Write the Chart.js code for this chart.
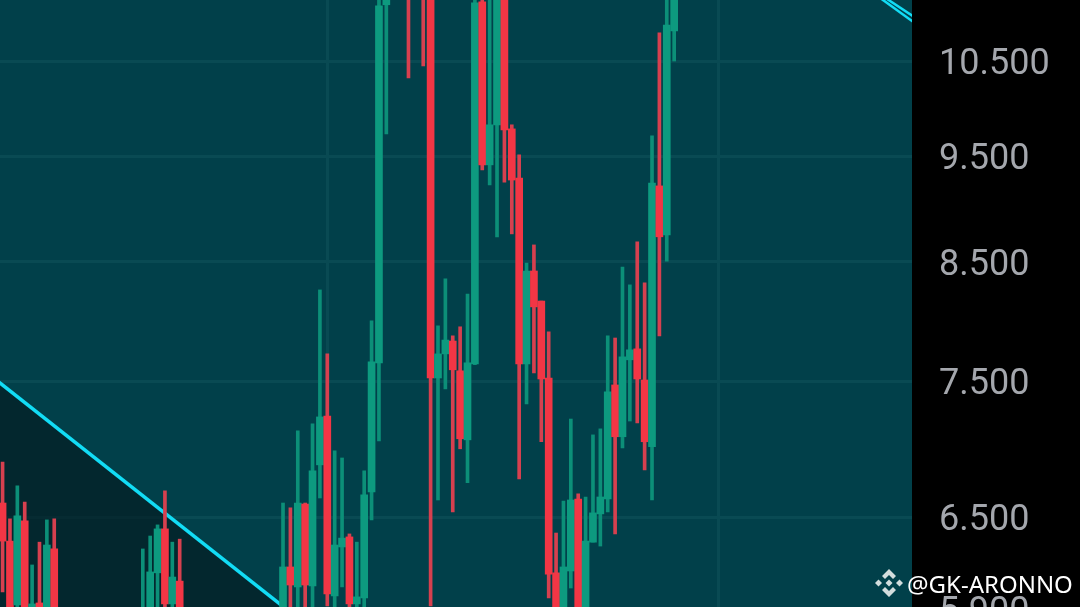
<!DOCTYPE html>
<html>
<head>
<meta charset="utf-8">
<title>Candles</title>
<script src="https://cdn.jsdelivr.net/npm/chart.js@4"></script>
<style>
    html, body { margin: 0; padding: 0; background: #000; overflow: hidden; width: 1080px; height: 607px; }
    #chartBox { position: absolute; left: 0; top: 0; width: 1080px; height: 640px; }
    #mark {
        position: absolute; left: 875px; top: 569px; height: 28px;
        display: flex; align-items: center; gap: 4px;
        font: 24px "Noto Sans", sans-serif; color: #fff; white-space: nowrap;
    }
</style>
</head>
<body>
<div id="chartBox"><canvas id="candleChart" width="1080" height="640"></canvas></div>
<div id="mark">
    <svg width="28" height="28" viewBox="0 0 28 28">
        <g fill="#d3dddd">
            <polygon points="14,10.5 17.5,14 14,17.5 10.5,14"/>
            <polygon points="14,0 21,7 18,10 14,6 10,10 7,7"/>
            <polygon points="14,28 21,21 18,18 14,22 10,18 7,21"/>
            <polygon points="0,14 3.5,10.5 7,14 3.5,17.5"/>
            <polygon points="28,14 24.5,10.5 21,14 24.5,17.5"/>
        </g>
    </svg>
    <span>@GK-ARONNO</span>
</div>
<script>
// slot = candle position on the time axis (gaps are candles outside the visible price range)
const slots = [0, 1, 2, 3, 4, 5, 6, 7,
    19, 20, 21, 22, 23, 24,
    38, 39, 40, 41, 42, 43, 44, 45, 46, 47, 48, 49, 50, 51, 52,
    55, 57, 58, 59, 60, 61, 62, 63, 64, 65, 66, 67, 68, 69, 70,
    71, 72, 73, 74, 75, 76, 77, 78, 79, 80, 81, 82, 83, 84, 85,
    86, 87, 88, 89, 90, 91];
const opens = [6597, 6338, 5927, 6474, 5650, 5939, 5650, 6286,
    5650, 5650, 6130, 6420, 5933, 6077,
    5650, 6168, 6040, 6590, 6046, 6867, 7229, 5983, 6299, 6366, 5933, 5971, 6675, 7645, 11140,
    11600, 11600, 11500, 7524, 7717, 7822, 7581, 7050, 7637, 11175, 9414, 9819, 11500, 9777, 9285,
    7637, 8420, 8158, 7524, 6130, 5650, 6142, 6625, 5650, 6331, 6522, 6625, 7469, 7073, 7669,
    7758, 7508, 6999, 9208, 8746, 10838];
const highs = [6888, 6488, 6717, 6604, 6181, 6331, 6481, 6488,
    6286, 6372, 6447, 6682, 6331, 6351,
    6597, 6563, 7117, 6597, 7169, 8254, 7717, 6969, 6917, 6386, 6331, 6824, 7990, 11700, 11700,
    11800, 11800, 11800, 7948, 8351, 7864, 7940, 8219, 11700, 11700, 11700, 11700, 11700, 9819, 9514,
    8490, 8654, 8158, 7898, 6392, 6611, 7206, 6661, 6639, 7087, 7132, 7864, 7847, 8455, 8298,
    8682, 8316, 9705, 10816, 11700, 11700];
const lows = [6008, 5600, 5800, 5600, 5600, 5600, 5600, 5600,
    5600, 5600, 5883, 5700, 5650, 5600,
    5600, 5650, 5650, 5650, 5650, 6632, 5921, 5650, 6040, 5650, 5650, 5650, 6481, 7043, 9725,
    10316, 10446, 5921, 6618, 7438, 6536, 6984, 6739, 7630, 9364, 9217, 8728, 9245, 8755, 6767,
    7322, 7564, 7036, 5971, 5600, 5600, 6033, 5600, 5600, 6331, 6305, 6536, 6386, 6991, 7191,
    7176, 6831, 6618, 7864, 8508, 10500];
const closes = [6338, 5650, 6509, 5650, 5933, 5650, 6312, 5650,
    5865, 6136, 6420, 5933, 6103, 5650,
    6168, 6052, 6597, 6052, 6824, 7222, 5996, 6312, 6358, 5933, 5977, 6654, 7653, 11128, 11500,
    11450, 11450, 7524, 7717, 7830, 7589, 7058, 7645, 11163, 9414, 9819, 11500, 9767, 9265, 7637,
    8420, 8108, 7516, 6122, 5650, 6168, 6618, 5650, 6338, 6529, 6639, 7415, 7073, 7693, 7750,
    7516, 7036, 9236, 8728, 10906, 11500];

// price axis
const tickValues = [10500, 9500, 8500, 7500, 6500, 5900];
const tickLabels = ['10.500', '9.500', '8.500', '7.500', '6.500', '5.900'];
const gridSlots = [44, 97];

// trend lines [slot, price]
const lowerTrendSlots = [-1, 40];
const lowerTrendPrices = [7515, 5845];
const upperTrendSlots = [118.28, 124.4];
const upperTrendPricesA = [11260, 10880];
const upperTrendPricesB = [11298, 10950];

const GREEN = '#0d9a7f';
const RED = '#f23645';
const GREEN_WICK = '#0c8f78';
const RED_WICK = '#d6404f';
const CYAN = '#12dcf5';
const GRID = '#094a53';

const isUp = i => closes[i] >= opens[i];

const plotBackground = {
    id: 'plotBackground',
    beforeDraw: function (chart) {
        const { ctx, chartArea } = chart;
        ctx.save();
        ctx.fillStyle = '#01404a';
        ctx.fillRect(chartArea.left, chartArea.top, chartArea.right - chartArea.left, chartArea.bottom - chartArea.top);
        ctx.restore();
    }
};

function trendPoints(xs, ys) {
    return xs.map((x, i) => ({ x: x, y: ys[i] }));
}

const ctx = document.getElementById('candleChart').getContext('2d');

new Chart(ctx, {
    data: {
        datasets: [
            {
                type: 'line',
                data: trendPoints(lowerTrendSlots, lowerTrendPrices),
                borderColor: CYAN,
                borderWidth: 3.5,
                pointRadius: 0,
                fill: 'start',
                backgroundColor: 'rgba(5, 24, 28, 0.6)',
                clip: 0,
                order: 3
            },
            {
                type: 'line',
                data: trendPoints(upperTrendSlots, upperTrendPricesA),
                borderColor: CYAN,
                borderWidth: 2.5,
                pointRadius: 0,
                clip: 0,
                order: 3
            },
            {
                type: 'line',
                data: trendPoints(upperTrendSlots, upperTrendPricesB),
                borderColor: CYAN,
                borderWidth: 2.5,
                pointRadius: 0,
                clip: 0,
                order: 3
            },
            {
                type: 'bar',
                data: slots.map((s, i) => ({ x: s, y: [lows[i], highs[i]] })),
                backgroundColor: slots.map((s, i) => isUp(i) ? GREEN_WICK : RED_WICK),
                barThickness: 3,
                grouped: false,
                order: 2
            },
            {
                type: 'bar',
                data: slots.map((s, i) => ({ x: s, y: [opens[i], closes[i]] })),
                backgroundColor: slots.map((s, i) => isUp(i) ? GREEN : RED),
                barThickness: 7,
                grouped: false,
                order: 1
            }
        ]
    },
    options: {
        responsive: false,
        animation: false,
        layout: { padding: 0 },
        plugins: {
            legend: { display: false },
            tooltip: { enabled: false }
        },
        scales: {
            x: {
                type: 'linear',
                min: -0.35,
                max: 123.23,
                offset: false,  // bar defaults turn this on, it would widen the range
                grid: { color: GRID, lineWidth: 3, drawTicks: false, offset: false },
                border: { display: false },
                ticks: { display: false },
                afterBuildTicks: scale => {
                    scale.ticks = gridSlots.map(v => ({ value: v }));
                }
            },
            y: {
                type: 'logarithmic',
                position: 'right',
                min: 5712,
                max: 11196,
                grid: { color: GRID, lineWidth: 3, drawTicks: false },
                border: { display: false },
                ticks: {
                    autoSkip: false,
                    padding: 27,
                    labelOffset: 4,
                    color: '#a4a7ad',
                    font: { family: 'Roboto', size: 36 },
                    callback: (value, index) => tickLabels[index]
                },
                afterBuildTicks: scale => {
                    scale.ticks = tickValues.map(v => ({ value: v }));
                },
                afterFit: scale => {
                    scale.width = 168;
                    scale.paddingTop = 0;
                    scale.paddingBottom = 0;
                }
            }
        }
    },
    plugins: [plotBackground]
});
</script>
</body>
</html>
